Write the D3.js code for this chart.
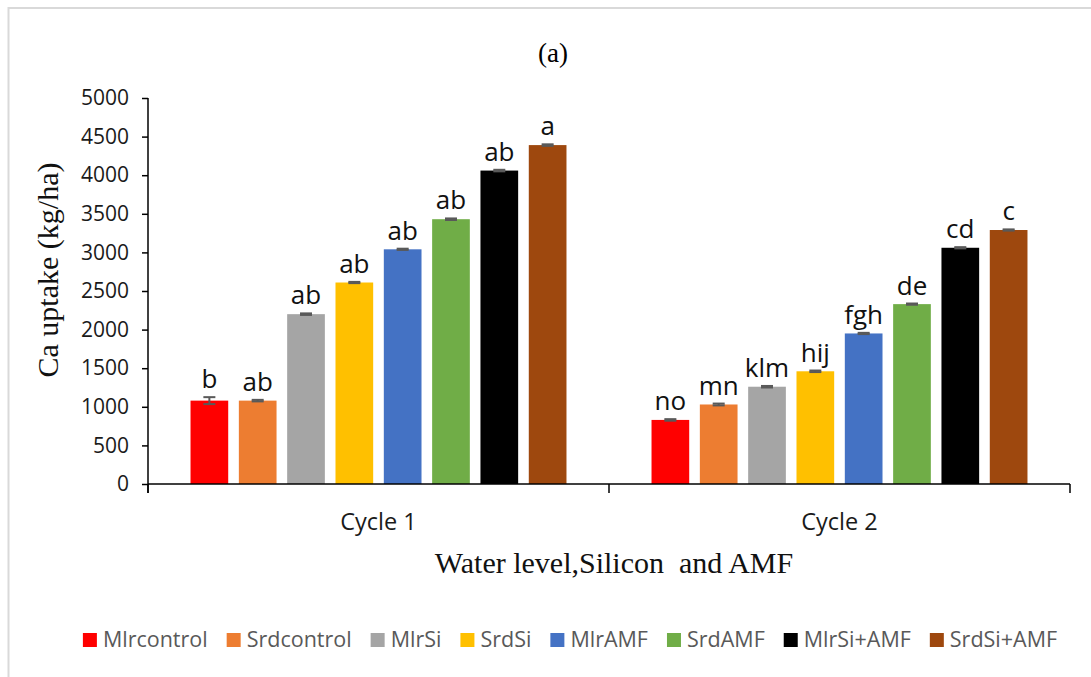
<!DOCTYPE html>
<html>
<head>
  <meta charset="utf-8">
  <script src="https://d3js.org/d3.v7.min.js"></script>
  <style>
    body { margin: 0; background: #fff; }
    svg { display: block; }
  </style>
</head>
<body>
<div id="chart"></div>
<script>

// data
var cycles = ["Cycle 1", "Cycle 2"];
var series = ["Mlrcontrol", "Srdcontrol", "MlrSi", "SrdSi", "MlrAMF", "SrdAMF", "MlrSi+AMF", "SrdSi+AMF"];
var colors = ["#FF0000", "#ED7D31", "#A5A5A5", "#FFC000", "#4472C4", "#70AD47", "#000000", "#9E480E"];
var cycle1 = [1080, 1080, 2200, 2610, 3040, 3430, 4060, 4390];
var cycle2 = [830, 1030, 1260, 1460, 1950, 2330, 3060, 3290];
var err1 = [45, 10, 10, 8, 8, 10, 10, 10];
var err2 = [10, 12, 10, 10, 8, 8, 8, 8];
var letters1 = ["b", "ab", "ab", "ab", "ab", "ab", "ab", "a"];
var letters2 = ["no", "mn", "klm", "hij", "fgh", "de", "cd", "c"];
var yTicks = [0, 500, 1000, 1500, 2000, 2500, 3000, 3500, 4000, 4500, 5000];

var W = 1091, H = 677;
var margin = {top: 98, left: 148, right: 21, bottom: 193};
var width = W - margin.left - margin.right,
    height = H - margin.top - margin.bottom;

var svg = d3.select("#chart").append("svg")
  .attr("width", W)
  .attr("height", H);

// outer frame
svg.append("rect")
  .attr("x", 8.5).attr("y", 8)
  .attr("width", 1200).attr("height", 800)
  .attr("fill", "#fff")
  .attr("stroke", "#d9d9d9")
  .attr("stroke-width", 2);

var g = svg.append("g")
  .attr("transform", "translate(" + margin.left + "," + margin.top + ")");

// build rows from the arrays
var rows = [
  {cycle: cycles[0], values: cycle1, errs: err1, letters: letters1},
  {cycle: cycles[1], values: cycle2, errs: err2, letters: letters2}
];

var x0 = d3.scaleBand().domain(cycles).range([0, width]).padding(0);
var x1 = d3.scaleBand().domain(series).range([0, x0.bandwidth()])
  .paddingInner(0.22).paddingOuter(0.88);
var y = d3.scaleLinear().domain([0, 5000]).range([height, 0]);

// y axis
var yAxis = g.append("g")
  .call(d3.axisLeft(y).tickValues(yTicks).tickFormat(d3.format("d")).tickSize(6).tickPadding(13));
yAxis.select(".domain").attr("stroke", "#000").attr("stroke-width", 1.5)
  .attr("d", "M0," + (height + 9) + "V0");
yAxis.selectAll(".tick line").attr("stroke", "#000").attr("stroke-width", 1.5);
yAxis.selectAll(".tick text")
  .style("font-family", "'Open Sans', sans-serif")
  .style("font-size", "21px")
  .attr("fill", "#1a1a1a");

// bars
var groups = g.selectAll(".grp")
  .data(rows)
  .enter().append("g")
    .attr("class", "grp")
    .attr("transform", function(d) { return "translate(" + x0(d.cycle) + ",0)"; });

var items = function(d) {
  return series.map(function(s, i) {
    return {key: s, i: i, value: d.values[i], err: d.errs[i], letter: d.letters[i]};
  });
};

groups.selectAll("rect")
  .data(items)
  .enter().append("rect")
    .attr("x", function(d) { return x1(d.key); })
    .attr("y", function(d) { return y(d.value); })
    .attr("width", x1.bandwidth())
    .attr("height", function(d) { return height - y(d.value); })
    .attr("fill", function(d) { return colors[d.i]; });

// error bars
var eb = groups.selectAll(".err")
  .data(items)
  .enter().append("g").attr("class", "err")
    .attr("stroke", "#595959").attr("stroke-width", 2);
eb.append("line")
  .attr("x1", function(d) { return x1(d.key) + x1.bandwidth() / 2; })
  .attr("x2", function(d) { return x1(d.key) + x1.bandwidth() / 2; })
  .attr("y1", function(d) { return y(d.value + d.err); })
  .attr("y2", function(d) { return y(d.value - d.err); });
eb.selectAll(".cap")
  .data(function(d) { return [d.value + d.err, d.value - d.err].map(function(v) { return {d: d, v: v}; }); })
  .enter().append("line")
    .attr("x1", function(c) { return x1(c.d.key) + x1.bandwidth() / 2 - 6; })
    .attr("x2", function(c) { return x1(c.d.key) + x1.bandwidth() / 2 + 6; })
    .attr("y1", function(c) { return y(c.v); })
    .attr("y2", function(c) { return y(c.v); });

// letters above the bars
groups.selectAll(".lbl")
  .data(items)
  .enter().append("text")
    .attr("class", "lbl")
    .attr("x", function(d) { return x1(d.key) + x1.bandwidth() / 2; })
    .attr("y", function(d) { return y(d.value + d.err) - 9; })
    .attr("text-anchor", "middle")
    .style("font-family", "'Open Sans', sans-serif")
    .style("font-size", "26px")
    .attr("fill", "#111")
    .text(function(d) { return d.letter; });

// x axis
var xAxis = g.append("g")
  .attr("transform", "translate(0," + height + ")");
xAxis.append("line")
  .attr("x1", 0).attr("x2", width)
  .attr("stroke", "#000").attr("stroke-width", 1.5);
xAxis.selectAll(".sep")
  .data([0].concat(cycles.map(function(c) { return x0(c) + x0.bandwidth(); })))
  .enter().append("line")
    .attr("x1", function(d) { return d; })
    .attr("x2", function(d) { return d; })
    .attr("y1", 0).attr("y2", 9)
    .attr("stroke", "#000").attr("stroke-width", 1.5);
xAxis.selectAll(".cat")
  .data(cycles)
  .enter().append("text")
    .attr("x", function(d) { return x0(d) + x0.bandwidth() / 2; })
    .attr("y", 46)
    .attr("text-anchor", "middle")
    .style("font-family", "'Open Sans', sans-serif")
    .style("font-size", "23.5px")
    .attr("fill", "#1a1a1a")
    .text(function(d) { return d; });

// titles
svg.append("text")
  .attr("x", 553).attr("y", 62)
  .attr("text-anchor", "middle")
  .style("font-family", "'Liberation Serif', serif")
  .style("font-size", "27px")
  .text("(a)");

svg.append("text")
  .attr("x", 614).attr("y", 573)
  .attr("text-anchor", "middle")
  .style("font-family", "'Liberation Serif', serif")
  .style("font-size", "30px")
  .attr("fill", "#111")
  .style("white-space", "pre")
  .text("Water level,Silicon  and AMF");

svg.append("text")
  .attr("transform", "translate(58,270) rotate(-90)")
  .attr("text-anchor", "middle")
  .style("font-family", "'Liberation Serif', serif")
  .style("font-size", "30px")
  .attr("fill", "#111")
  .text("Ca uptake (kg/ha)");

// legend
var legend = svg.append("g");
var lx = 0;
series.forEach(function(s, i) {
  var item = legend.append("g").attr("transform", "translate(" + lx + ",0)");
  item.append("rect")
    .attr("x", 0).attr("y", -14)
    .attr("width", 14).attr("height", 14)
    .attr("fill", colors[i]);
  var t = item.append("text")
    .attr("x", 20).attr("y", 0)
    .style("font-family", "'Open Sans', sans-serif")
    .style("font-size", "21.5px")
    .attr("fill", "#595959")
    .text(s);
  lx += 20 + t.node().getComputedTextLength() + 19;
});
var legW = lx - 19;
legend.attr("transform", "translate(" + (570 - legW / 2) + ",647)");

</script>
</body>
</html>
